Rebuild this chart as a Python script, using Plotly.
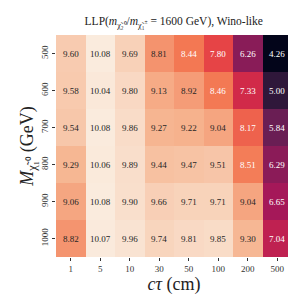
import plotly.graph_objects as go

ctau = ["1", "5", "10", "30", "50", "100", "200", "500"]
mass = ["500", "600", "700", "800", "900", "1000"]
values = [
    [9.60, 10.08, 9.69, 8.81, 8.44, 7.80, 6.26, 4.26],
    [9.58, 10.04, 9.80, 9.13, 8.92, 8.46, 7.33, 5.00],
    [9.54, 10.08, 9.86, 9.27, 9.22, 9.04, 8.17, 5.84],
    [9.29, 10.06, 9.89, 9.44, 9.47, 9.51, 8.51, 6.29],
    [9.06, 10.08, 9.90, 9.66, 9.71, 9.71, 9.04, 6.65],
    [8.82, 10.07, 9.96, 9.74, 9.81, 9.85, 9.30, 7.04],
]

rocket = [
    [0.0, "#03051A"], [0.143, "#35193E"], [0.286, "#701F57"],
    [0.429, "#AD1759"], [0.571, "#E13342"], [0.714, "#F37651"],
    [0.857, "#F6B48F"], [1.0, "#FAEBDD"],
]

FONT = "Liberation Serif"
vmin = min(min(r) for r in values)
vmax = max(max(r) for r in values)
xi = list(range(len(ctau)))
yi = list(range(len(mass)))

fig = go.Figure(go.Heatmap(
    z=values, x=xi, y=yi, colorscale=rocket, zmin=vmin, zmax=vmax,
    showscale=False, xgap=0, ygap=0,
))

annotations = []
for i in yi:
    for j in xi:
        v = values[i][j]
        col = "#FFFFFF" if v < 8.6 else "#262626"
        annotations.append(dict(
            x=j, y=i, xref="x", yref="y", text=f"{v:.2f}", showarrow=False,
            font=dict(family=FONT, size=9, color=col),
        ))

fig.update_layout(
    width=296, height=296,
    margin=dict(l=48, r=12, t=27, b=47, autoexpand=False),
    paper_bgcolor="white", plot_bgcolor="white",
    annotations=annotations,
    title=dict(
        text="LLP(<i>m</i><sub>χ̃₂⁰</sub>/<i>m</i><sub>χ̃₁<sup>±</sup></sub> = 1600 GeV), Wino-like",
        x=0.56, xanchor="center", y=0.955, yanchor="middle",
        font=dict(family=FONT, size=11.5, color="#222"),
    ),
    xaxis=dict(
        title=dict(text="<i>cτ</i> (cm)", font=dict(family=FONT, size=18, color="#222"), standoff=2),
        tickfont=dict(family=FONT, size=9, color="#333"),
        tickmode="array", tickvals=xi, ticktext=ctau,
        ticks="outside", ticklen=3, tickcolor="#333", showgrid=False, zeroline=False,
        range=[-0.5, len(ctau) - 0.5], automargin=False,
    ),
    yaxis=dict(
        title=dict(text="<i>M</i><sub>χ̃₁⁰</sub> (GeV)", font=dict(family=FONT, size=18, color="#222"), standoff=2),
        tickfont=dict(family=FONT, size=9, color="#333"),
        tickmode="array", tickvals=yi, ticktext=mass,
        ticks="outside", ticklen=3, tickcolor="#333", showgrid=False, zeroline=False,
        tickangle=-90, range=[len(mass) - 0.5, -0.5], automargin=False,
    ),
)

fig.write_html("out.html")
